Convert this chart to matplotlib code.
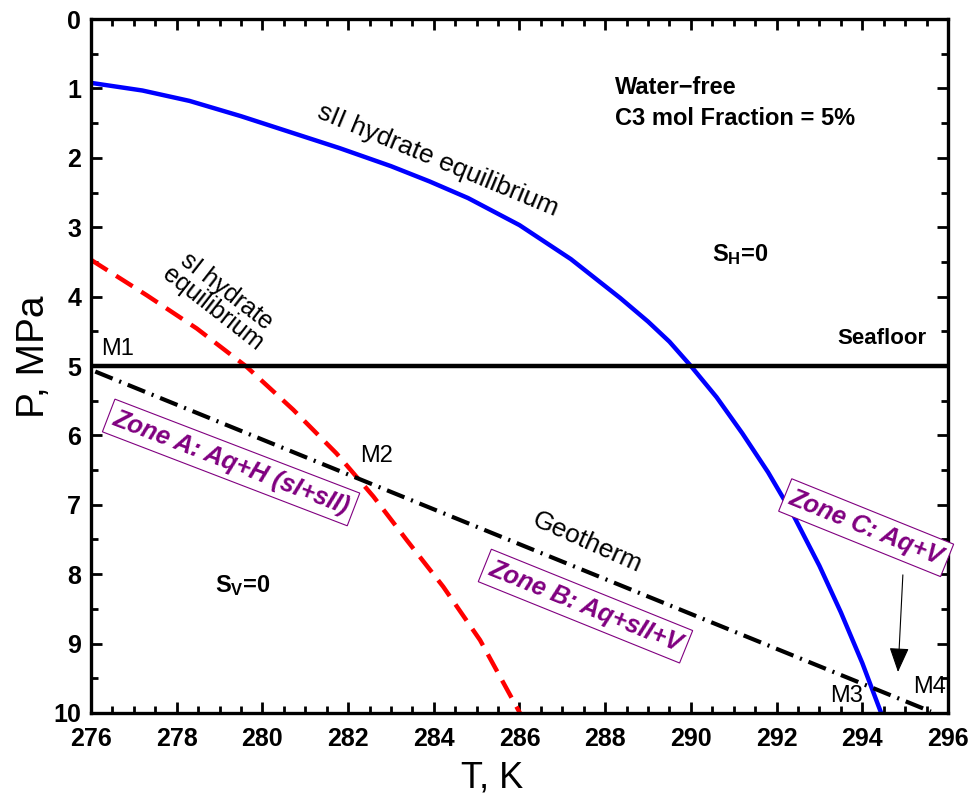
import matplotlib
matplotlib.use('Agg')
import matplotlib.pyplot as plt
from matplotlib.ticker import MultipleLocator

plt.rcParams['font.family'] = ['Liberation Sans', 'DejaVu Sans']
plt.rcParams['mathtext.fontset'] = 'custom'
plt.rcParams['mathtext.rm'] = 'Liberation Sans'
plt.rcParams['mathtext.bf'] = 'Liberation Sans:bold'

# sII hydrate equilibrium (blue)
sII_T = [276.0, 277.2, 278.3, 279.5, 280.6, 281.8, 283.0, 283.9, 284.8, 286.0,
         287.2, 288.35, 289.0, 289.5, 290.0, 290.6, 291.2, 291.8, 292.4, 293.0,
         293.5, 294.0, 294.44]
sII_P = [0.92, 1.03, 1.18, 1.40, 1.62, 1.86, 2.12, 2.34, 2.58, 2.97,
         3.46, 4.02, 4.36, 4.65, 5.0, 5.45, 5.97, 6.53, 7.16, 7.88,
         8.55, 9.28, 10.0]

# sI hydrate equilibrium (red dashed)
sI_T = [276.0, 277.3, 278.47, 279.63, 280.72, 281.73, 282.59, 283.37, 284.22, 285.08, 286.01]
sI_P = [3.47, 3.98, 4.46, 5.01, 5.63, 6.26, 6.88, 7.51, 8.18, 8.95, 10.0]

# geotherm and seafloor
geo_T = [276.1, 295.6]
geo_P = [5.08, 9.98]
seafloor_P = 5.0

fig = plt.figure(figsize=(9.74, 7.96), dpi=100)
ax = fig.add_axes([0.0934, 0.1043, 0.8799, 0.8718])

ax.plot(sII_T, sII_P, color='#0000ff', lw=3.2)
ax.plot(sI_T, sI_P, color='#ff0000', lw=3.2, linestyle=(0, (4.4, 2.3)))
ax.axhline(seafloor_P, color='black', lw=3.2)
ax.plot(geo_T, geo_P, color='black', lw=3.0, linestyle=(0, (4.5, 1.7, 0.5, 1.7)))

ax.set_xlim(276, 296)
ax.set_ylim(10, 0)
ax.xaxis.set_major_locator(MultipleLocator(2))
ax.xaxis.set_minor_locator(MultipleLocator(0.5))
ax.yaxis.set_major_locator(MultipleLocator(1))
ax.yaxis.set_minor_locator(MultipleLocator(0.5))
ax.tick_params(which='both', direction='in', top=True, right=True, width=2)
ax.tick_params(which='major', length=8, labelsize=18)
ax.tick_params(axis='x', which='major', pad=10)
ax.tick_params(axis='y', which='major', pad=7)
ax.tick_params(which='minor', length=5)
for lab in ax.get_xticklabels() + ax.get_yticklabels():
    lab.set_fontweight('bold')
for s in ax.spines.values():
    s.set_linewidth(2.4)

ax.set_xlabel('T, K', fontsize=26)
ax.set_ylabel('P, MPa', fontsize=28)
ax.xaxis.set_label_coords(0.468, -0.068)
ax.yaxis.set_label_coords(-0.046, 0.513)

# annotations
ax.text(288.23, 1.21, 'Water\u2212free\nC3 mol Fraction = 5%', fontsize=17,
        fontweight='bold', ha='left', va='center', linespacing=1.45)
ax.text(291.15, 3.4, r'$\mathbf{S_H}$=0', fontsize=17, fontweight='bold',
        ha='center', va='center')
ax.text(279.55, 8.17, r'$\mathbf{S_V}$=0', fontsize=17, fontweight='bold',
        ha='center', va='center')
ax.text(295.5, 4.6, 'Seafloor', fontsize=16, fontweight='bold',
        ha='right', va='center')
ax.text(284.1, 2.03, 'sII hydrate equilibrium', fontsize=19, rotation=-22.5,
        ha='center', va='center')
ax.text(279.0, 4.05, 'sI hydrate\nequilibrium', fontsize=18, rotation=-38,
        ha='center', va='center', linespacing=0.95)
ax.text(287.58, 7.54, 'Geotherm', fontsize=19, rotation=-24,
        ha='center', va='center')

ax.text(276.63, 4.75, 'M1', fontsize=17, ha='center', va='center')
ax.text(282.67, 6.30, 'M2', fontsize=17, ha='center', va='center')
ax.text(293.64, 9.75, 'M3', fontsize=17, ha='center', va='center')
ax.text(295.58, 9.62, 'M4', fontsize=17, ha='center', va='center')

zone_box = dict(boxstyle='square,pad=0.22', fc='white', ec='#800080', lw=0.8)
zone_style = dict(fontsize=18, color='#800080', fontweight='bold', style='italic',
                  ha='center', va='center', rotation_mode='anchor', bbox=zone_box)
ax.text(279.27, 6.39, 'Zone A: Aq+H (sI+sII)', rotation=-21, **zone_style)
ax.text(287.54, 8.46, 'Zone B: Aq+sII+V', rotation=-22, **zone_style)
ax.text(294.09, 7.33, 'Zone C: Aq+V', rotation=-22, clip_on=False, **zone_style)

ax.annotate('', xy=(294.83, 9.45), xytext=(294.95, 7.97),
            arrowprops=dict(arrowstyle='-|>,head_length=0.55,head_width=0.22',
                            color='black', lw=0.8, mutation_scale=28))

fig.savefig('out.png', dpi=100)
